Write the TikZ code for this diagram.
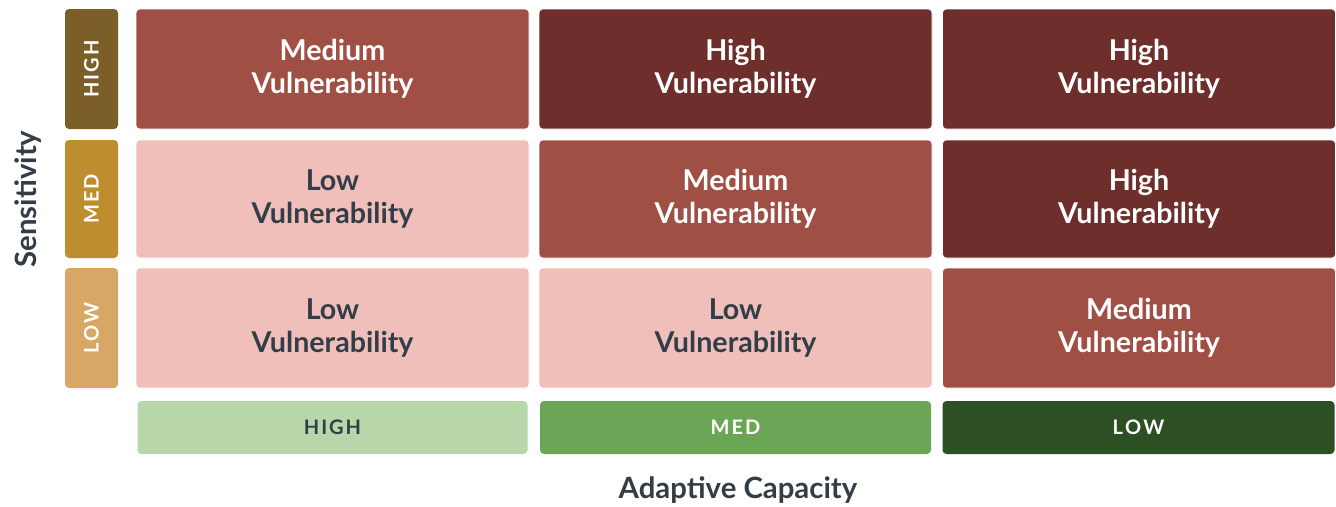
\documentclass[tikz,border=0pt]{standalone}
\usepackage{fontspec}
\setmainfont{Lato}
\definecolor{vmed}{HTML}{A04F44}
\definecolor{vhigh}{HTML}{6E2E2B}
\definecolor{vlow}{HTML}{F0BFBA}
\definecolor{shigh}{HTML}{7B5E28}
\definecolor{smed}{HTML}{BD8D2E}
\definecolor{slow}{HTML}{D8A765}
\definecolor{ahigh}{HTML}{B7D6AA}
\definecolor{amed}{HTML}{6BA656}
\definecolor{alow}{HTML}{2D4F24}
\definecolor{ink}{HTML}{333D47}
\begin{document}
\begin{tikzpicture}[x=0.75pt,y=-0.75pt,
  cellbox/.style={rounded corners=3pt,draw=white,line width=0.4pt,inner sep=0pt,align=center,
     font=\fontsize{21.5}{25}\selectfont\bfseries},
  sidebox/.style={rounded corners=3pt,inner sep=0pt,text=white,
     font=\fontsize{15}{17}\selectfont\bfseries},
  sidetext/.style={text=white,rotate=90,font=\fontsize{15}{17}\selectfont\bfseries},
  axislabel/.style={text=ink,font=\fontsize{22}{24}\selectfont\bfseries}]
\useasboundingbox (0,0) rectangle (1336,507);
% vulnerability cells
\node[cellbox,fill=vmed,text=white,minimum width=294.75pt,minimum height=90pt] (c11) at (332.5,69) {Medium\\Vulnerability};
\node[cellbox,fill=vhigh,text=white,minimum width=294.75pt,minimum height=90pt] (c12) at (735.5,69) {High\\Vulnerability};
\node[cellbox,fill=vhigh,text=white,minimum width=294.75pt,minimum height=90pt] (c13) at (1139,69) {High\\Vulnerability};
\node[cellbox,fill=vlow,text=ink,minimum width=294.75pt,minimum height=88.5pt] (c21) at (332.5,199) {Low\\Vulnerability};
\node[cellbox,fill=vmed,text=white,minimum width=294.75pt,minimum height=88.5pt] (c22) at (735.5,199) {Medium\\Vulnerability};
\node[cellbox,fill=vhigh,text=white,minimum width=294.75pt,minimum height=88.5pt] (c23) at (1139,199) {High\\Vulnerability};
\node[cellbox,fill=vlow,text=ink,minimum width=294.75pt,minimum height=90pt] (c31) at (332.5,328) {Low\\Vulnerability};
\node[cellbox,fill=vlow,text=ink,minimum width=294.75pt,minimum height=90pt] (c32) at (735.5,328) {Low\\Vulnerability};
\node[cellbox,fill=vmed,text=white,minimum width=294.75pt,minimum height=90pt] (c33) at (1139,328) {Medium\\Vulnerability};
% sensitivity labels
\node[sidebox,fill=shigh,minimum width=39.75pt,minimum height=90pt] (s1) at (91.5,69) {};
\node[sidetext] (s1t) at (s1.center) {H\kern1.5pt I\kern1.5pt G\kern1.5pt H};
\node[sidebox,fill=smed,minimum width=39.75pt,minimum height=88.5pt] (s2) at (91.5,199) {};
\node[sidetext] (s2t) at (s2.center) {M\kern1.5pt E\kern1.5pt D};
\node[sidebox,fill=slow,minimum width=39.75pt,minimum height=90pt] (s3) at (91.5,328) {};
\node[sidetext] (s3t) at (s3.center) {L\kern1.5pt O\kern1.5pt W};
% adaptive capacity labels
\node[sidebox,fill=ahigh,text=ink,minimum width=292.5pt,minimum height=39.75pt] (a1) at (332.5,427.5) {H\kern1.5pt I\kern1.5pt G\kern1.5pt H};
\node[sidebox,fill=amed,minimum width=293.25pt,minimum height=39.75pt] (a2) at (735.5,427.5) {M\kern1.5pt E\kern1.5pt D};
\node[sidebox,fill=alow,minimum width=294pt,minimum height=39.75pt] (a3) at (1138.5,427.5) {L\kern1.5pt O\kern1.5pt W};
% axis titles
\node[axislabel,rotate=90] (sens) at (28,199) {Sensitivity};
\node[axislabel] (adap) at (738,490) {Adaptive Capacity};
\end{tikzpicture}
\end{document}
